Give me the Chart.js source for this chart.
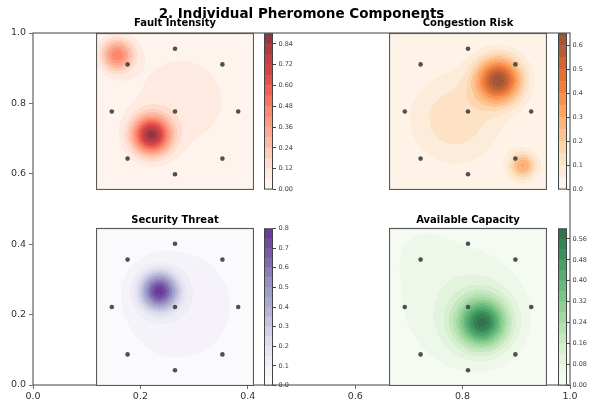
<!DOCTYPE html>
<html>
<head>
<meta charset="utf-8">
<script src="https://cdn.jsdelivr.net/npm/chart.js@4.4.1/dist/chart.umd.min.js"></script>
<style>
  html, body { margin: 0; padding: 0; background: #fff; width: 589px; height: 401px; overflow: hidden; }
  #fig { position: relative; width: 589px; height: 401px; }
  #fig canvas { position: absolute; }
</style>
</head>
<body>
<div id="fig"></div>
<script>
// ---------------- data ----------------
const outerTicks = ['0.0', '0.2', '0.4', '0.6', '0.8', '1.0'];

// Sensor nodes (shared by all four fields, normalised coordinates)
const nodeX = [0.5, 0.2, 0.8, 0.1, 0.5, 0.9, 0.2, 0.8, 0.5];
const nodeY = [0.9, 0.8, 0.8, 0.5, 0.5, 0.5, 0.2, 0.2, 0.1];

// Fault intensity deposits: centre, peak strength, spread
const faultCx     = [0.35, 0.135, 0.54];
const faultCy     = [0.35, 0.86, 0.57];
const faultPeak   = [0.82, 0.45, 0.09];
const faultSpread = [0.082, 0.07, 0.28];
const faultLevels = [0.00, 0.06, 0.12, 0.18, 0.24, 0.30, 0.36, 0.42, 0.48, 0.54, 0.60, 0.66, 0.72, 0.78, 0.84, 0.90];
const faultTicks  = ['0.00', '0.12', '0.24', '0.36', '0.48', '0.60', '0.72', '0.84'];

// Congestion risk deposits
const congCx     = [0.694, 0.847, 0.42];
const congCy     = [0.70, 0.154, 0.455];
const congPeak   = [0.61, 0.30, 0.14];
const congSpread = [0.10, 0.06, 0.20];
const congLevels = [0.00, 0.05, 0.10, 0.15, 0.20, 0.25, 0.30, 0.35, 0.40, 0.45, 0.50, 0.55, 0.60, 0.65];
const congTicks  = ['0.0', '0.1', '0.2', '0.3', '0.4', '0.5', '0.6'];

// Security threat deposits
const secCx     = [0.40, 0.52];
const secCy     = [0.60, 0.51];
const secPeak   = [0.71, 0.085];
const secSpread = [0.08, 0.32];
const secLevels = [0.00, 0.05, 0.10, 0.15, 0.20, 0.25, 0.30, 0.35, 0.40, 0.45, 0.50, 0.55, 0.60, 0.65, 0.70, 0.75, 0.80];
const secTicks  = ['0.0', '0.1', '0.2', '0.3', '0.4', '0.5', '0.6', '0.7', '0.8'];

// Available capacity deposits
const capCx     = [0.59, 0.58, 0.42, 0.20];
const capCy     = [0.40, 0.41, 0.55, 0.85];
const capPeak   = [0.41, 0.12, 0.065, 0.025];
const capSpread = [0.10, 0.16, 0.33, 0.12];
const capLevels = [0.00, 0.04, 0.08, 0.12, 0.16, 0.20, 0.24, 0.28, 0.32, 0.36, 0.40, 0.44, 0.48, 0.52, 0.56, 0.60];
const capTicks  = ['0.00', '0.08', '0.16', '0.24', '0.32', '0.40', '0.48', '0.56'];

// ---------------- styling ----------------
const FONT = "'DejaVu Sans', 'Liberation Sans', sans-serif";
const FILL_ALPHA = 0.8;
const CMAPS = {
  Reds:    ['#fff5f0','#fee0d2','#fcbba1','#fc9272','#fb6a4a','#ef3b2c','#cb181d','#a50f15','#67000d'],
  Oranges: ['#fff5eb','#fee6ce','#fdd0a2','#fdae6b','#fd8d3c','#f16913','#d94801','#a63603','#7f2704'],
  Purples: ['#fcfbfd','#efedf5','#dadaeb','#bcbddc','#9e9ac8','#807dba','#6a51a3','#54278f','#3f007d'],
  Greens:  ['#f7fcf5','#e5f5e0','#c7e9c0','#a1d99b','#74c476','#41ab5d','#238b45','#006d2c','#00441b']
};

const panels = [
  { title: 'Fault Intensity',    cmap: 'Reds',    cx: faultCx, cy: faultCy, peak: faultPeak, spread: faultSpread, levels: faultLevels, ticks: faultTicks },
  { title: 'Congestion Risk',    cmap: 'Oranges', cx: congCx,  cy: congCy,  peak: congPeak,  spread: congSpread,  levels: congLevels,  ticks: congTicks },
  { title: 'Security Threat',    cmap: 'Purples', cx: secCx,   cy: secCy,   peak: secPeak,   spread: secSpread,   levels: secLevels,   ticks: secTicks },
  { title: 'Available Capacity', cmap: 'Greens',  cx: capCx,   cy: capCy,   peak: capPeak,   spread: capSpread,   levels: capLevels,   ticks: capTicks }
];

// pixel placement of each subplot box and its colour bar
const boxes = [
  { left: 96,  top: 33,  w: 158, h: 157, cbLeft: 264, titleGap: 7 },
  { left: 389, top: 33,  w: 158, h: 157, cbLeft: 558, titleGap: 7 },
  { left: 96,  top: 228, w: 158, h: 158, cbLeft: 264, titleGap: 5.5 },
  { left: 389, top: 228, w: 158, h: 158, cbLeft: 558, titleGap: 5.5 }
];
const CB_W = 9;

// ---------------- helpers ----------------
function hexRGB(h) { return [1, 3, 5].map(i => parseInt(h.slice(i, i + 2), 16)); }
function cmapRGB(name, t) {
  const s = CMAPS[name];
  const p = Math.max(0, Math.min(1, t)) * (s.length - 1);
  const i = Math.min(Math.floor(p), s.length - 2);
  const f = p - i;
  const a = hexRGB(s[i]), b = hexRGB(s[i + 1]);
  return a.map((c, k) => c + (b[k] - c) * f);
}
// colour of filled band k (of n), blended over white
function bandRGB(name, k, n) {
  const c = cmapRGB(name, (k + 0.5) / n);
  return c.map(v => Math.round(v * FILL_ALPHA + 255 * (1 - FILL_ALPHA)));
}
function rgbStr(c) { return `rgb(${c[0]},${c[1]},${c[2]})`; }

function fieldAt(p, u, v) {
  let s = 0;
  for (let i = 0; i < p.cx.length; i++) {
    const dx = u - p.cx[i], dy = v - p.cy[i], sg = p.spread[i];
    s += p.peak[i] * Math.exp(-(dx * dx + dy * dy) / (2 * sg * sg));
  }
  return s;
}
function bandIndex(levels, val) {
  let k = 0;
  while (k < levels.length - 2 && val >= levels[k + 1]) k++;
  return k;
}

function makeCanvas(left, top, w, h) {
  const c = document.createElement('canvas');
  c.width = w; c.height = h;
  c.style.left = left + 'px'; c.style.top = top + 'px';
  c.style.width = w + 'px'; c.style.height = h + 'px';
  document.getElementById('fig').appendChild(c);
  return c;
}

const baseOpts = {
  responsive: false, animation: false, devicePixelRatio: 1, events: [],
  plugins: { legend: { display: false }, tooltip: { enabled: false } }
};

// ---------------- outer axes ----------------
const outerDecor = {
  id: 'outerDecor',
  afterDraw(chart) {
    const { ctx, chartArea: a } = chart;
    ctx.save();
    ctx.strokeStyle = '#6e6e6e';
    ctx.lineWidth = 1.3;
    ctx.strokeRect(a.left, a.top, a.right - a.left, a.bottom - a.top);
    ctx.fillStyle = '#000';
    ctx.font = `bold 13.5px ${FONT}`;
    ctx.textAlign = 'center';
    ctx.textBaseline = 'alphabetic';
    ctx.fillText('2. Individual Pheromone Components', (a.left + a.right) / 2, 17.5);
    ctx.restore();
  }
};

function outerAxis(pos) {
  return {
    type: 'linear', position: pos, min: 0, max: 1,
    afterBuildTicks: s => { s.ticks = outerTicks.map(t => ({ value: parseFloat(t) })); },
    afterFit: s => { if (pos === 'left') s.width = 33; else s.height = 16; },
    ticks: {
      callback: v => outerTicks.find(t => parseFloat(t) === v) ?? '',
      font: { family: FONT, size: 9.5 }, color: '#333', padding: pos === 'left' ? 3 : 2,
      maxRotation: 0, autoSkip: false
    },
    grid: { display: true, drawOnChartArea: false, drawTicks: true, tickLength: 4, color: '#6e6e6e', lineWidth: 1 },
    border: { display: false }
  };
}

new Chart(makeCanvas(0, 0, 589, 401), {
  type: 'scatter',
  data: { datasets: [] },
  options: Object.assign({}, baseOpts, {
    layout: { autoPadding: false, padding: { top: 33, right: 19, left: 0, bottom: 0 } },
    scales: { x: outerAxis('bottom'), y: outerAxis('left') }
  }),
  plugins: [outerDecor]
});

// ---------------- subplots ----------------
const fieldPlugin = {
  id: 'field',
  beforeDatasetsDraw(chart, args, opts) {
    const p = opts.panel;
    const { ctx, chartArea: a, scales: { x, y } } = chart;
    const w = Math.round(a.right - a.left), h = Math.round(a.bottom - a.top);
    const off = document.createElement('canvas');
    off.width = w; off.height = h;
    const octx = off.getContext('2d');
    const img = octx.createImageData(w, h);
    const n = p.levels.length - 1;
    const palette = [];
    for (let k = 0; k < n; k++) palette.push(bandRGB(p.cmap, k, n));
    for (let j = 0; j < h; j++) {
      const v = y.getValueForPixel(a.top + j + 0.5);
      for (let i = 0; i < w; i++) {
        const u = x.getValueForPixel(a.left + i + 0.5);
        const c = palette[bandIndex(p.levels, fieldAt(p, u, v))];
        const o = (j * w + i) * 4;
        img.data[o] = c[0]; img.data[o + 1] = c[1]; img.data[o + 2] = c[2]; img.data[o + 3] = 255;
      }
    }
    octx.putImageData(img, 0, 0);
    ctx.drawImage(off, a.left, a.top);
  },
  afterDatasetsDraw(chart, args, opts) {
    const { ctx, chartArea: a } = chart;
    ctx.save();
    ctx.strokeStyle = '#5a5a5a';
    ctx.lineWidth = 1.2;
    ctx.strokeRect(a.left + 0.5, a.top + 0.5, a.right - a.left - 1, a.bottom - a.top - 1);
    ctx.fillStyle = '#000';
    ctx.font = `bold 10px ${FONT}`;
    ctx.textAlign = 'center';
    ctx.textBaseline = 'alphabetic';
    ctx.fillText(opts.panel.title, (a.left + a.right) / 2, a.top - opts.titleGap);
    ctx.restore();
  }
};

const colorbarPlugin = {
  id: 'cbOutline',
  afterDatasetsDraw(chart) {
    const { ctx, chartArea: a } = chart;
    ctx.save();
    ctx.strokeStyle = '#444';
    ctx.lineWidth = 1;
    ctx.strokeRect(a.left + 0.5, a.top + 0.5, a.right - a.left - 1, a.bottom - a.top - 1);
    ctx.restore();
  }
};

panels.forEach((p, idx) => {
  const b = boxes[idx];
  const TOP_PAD = 24;

  new Chart(makeCanvas(b.left, b.top - TOP_PAD, b.w, b.h + TOP_PAD), {
    type: 'scatter',
    data: {
      datasets: [{
        data: nodeX.map((xv, i) => ({ x: xv, y: nodeY[i] })),
        pointRadius: 2.3, pointBackgroundColor: '#505050', pointBorderWidth: 0
      }]
    },
    options: Object.assign({}, baseOpts, {
      layout: { autoPadding: false, padding: { top: TOP_PAD, left: 0, right: 0, bottom: 0 } },
      scales: {
        x: { type: 'linear', min: 0, max: 1, display: false },
        y: { type: 'linear', min: 0, max: 1, display: false }
      },
      plugins: Object.assign({}, baseOpts.plugins, { field: { panel: p, titleGap: b.titleGap } })
    }),
    plugins: [fieldPlugin]
  });

  // colour bar: one floating bar per contour band
  const n = p.levels.length - 1;
  const CB_PAD = 6, CB_CANVAS_W = 40;
  new Chart(makeCanvas(b.cbLeft, b.top - CB_PAD, CB_CANVAS_W, b.h + 2 * CB_PAD), {
    type: 'bar',
    data: {
      labels: [p.title],
      datasets: p.levels.slice(0, n).map((lv, k) => ({
        data: [[lv, p.levels[k + 1]]],
        backgroundColor: rgbStr(bandRGB(p.cmap, k, n)),
        borderWidth: 0, grouped: false, barPercentage: 1, categoryPercentage: 1
      }))
    },
    options: Object.assign({}, baseOpts, {
      layout: { autoPadding: false, padding: { top: CB_PAD, bottom: CB_PAD, left: 0, right: 0 } },
      scales: {
        x: { display: false },
        y: {
          type: 'linear', position: 'right', min: p.levels[0], max: p.levels[n],
          afterBuildTicks: s => { s.ticks = p.ticks.map(t => ({ value: parseFloat(t) })); },
          afterFit: s => { s.width = CB_CANVAS_W - CB_W; },
          ticks: {
            callback: v => p.ticks.find(t => Math.abs(parseFloat(t) - v) < 1e-9) ?? '',
            font: { family: FONT, size: 6.5 }, color: '#444', padding: 2.5, autoSkip: false
          },
          grid: { display: true, drawOnChartArea: false, drawTicks: true, tickLength: 3, color: '#444', lineWidth: 1 },
          border: { display: false }
        }
      }
    }),
    plugins: [colorbarPlugin]
  });
});
</script>
</body>
</html>
